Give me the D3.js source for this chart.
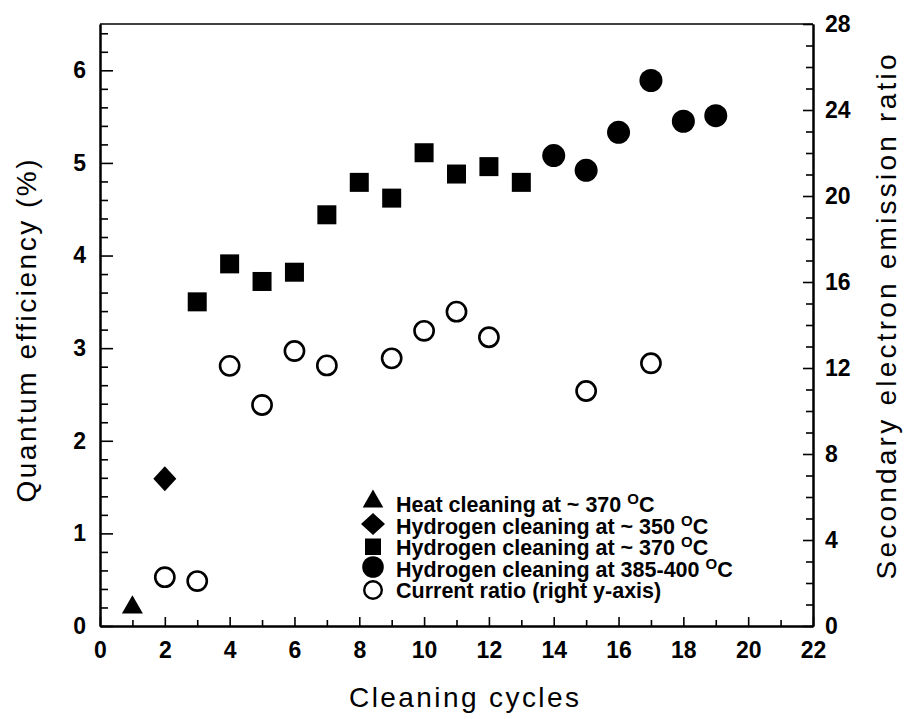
<!DOCTYPE html>
<html>
<head>
<meta charset="utf-8">
<script src="https://cdn.jsdelivr.net/npm/d3@7"></script>
<style>
  body { margin: 0; background: #fff; }
  svg { display: block; }
  text { font-family: "Liberation Sans", Arial, Helvetica, sans-serif; fill: #000; }
</style>
</head>
<body>
<svg id="chart" width="911" height="719"></svg>
<script>
// Cleaning cycles vs. quantum efficiency (left axis) and current ratio (right axis)
const heatCycles = [1];
const heatQE = [0.2];

const h350Cycles = [2];
const h350QE = [1.59];

const h370Cycles = [3, 4, 5, 6, 7, 8, 9, 10, 11, 12, 13];
const h370QE = [3.50, 3.91, 3.72, 3.82, 4.44, 4.79, 4.62, 5.11, 4.88, 4.96, 4.79];

const h385Cycles = [14, 15, 16, 17, 18, 19];
const h385QE = [5.08, 4.92, 5.33, 5.89, 5.45, 5.51];

const ratioCycles = [2, 3, 4, 5, 6, 7, 9, 10, 11, 12, 15, 17];
const ratioValues = [2.27, 2.09, 12.1, 10.28, 12.79, 12.12, 12.45, 13.73, 14.62, 13.43, 10.93, 12.22];

const xMajorTicks = [0, 2, 4, 6, 8, 10, 12, 14, 16, 18, 20, 22];
const xMinorTicks = [1, 3, 5, 7, 9, 11, 13, 15, 17, 19, 21];
const yLeftMajorTicks = [0, 1, 2, 3, 4, 5, 6];
const yLeftMinorTicks = [0.2, 0.4, 0.6, 0.8, 1.2, 1.4, 1.6, 1.8, 2.2, 2.4, 2.6, 2.8,
  3.2, 3.4, 3.6, 3.8, 4.2, 4.4, 4.6, 4.8, 5.2, 5.4, 5.6, 5.8, 6.2, 6.4];
const yRightMajorTicks = [0, 4, 8, 12, 16, 20, 24, 28];
const yRightMinorTicks = [1, 2, 3, 5, 6, 7, 9, 10, 11, 13, 14, 15, 17, 18, 19, 21, 22, 23, 25, 26, 27];

const legendLabels = [
  ["Heat cleaning at ~ 370 ", "C"],
  ["Hydrogen cleaning at ~ 350 ", "C"],
  ["Hydrogen cleaning at ~ 370 ", "C"],
  ["Hydrogen cleaning at 385-400 ", "C"],
  ["Current ratio (right y-axis)", null]
];

const svg = d3.select("#chart");
const plotLeft = 100, plotRight = 813, plotTop = 24, plotBottom = 626;

const x = d3.scaleLinear().domain([0, 22]).range([plotLeft, plotRight]);
const yL = d3.scaleLinear().domain([0, 6.5]).range([plotBottom, plotTop]);
const yR = d3.scaleLinear().domain([0, 28]).range([plotBottom, plotTop]);

// marker shapes
function triPath(s) { // s: half width
  const h = s * 1.75;
  return `M0,${-h * 2 / 3}L${s},${h / 3}L${-s},${h / 3}Z`;
}
function diamondPath(w, h) {
  return `M0,${-h}L${w},0L0,${h}L${-w},0Z`;
}

// axes
function styleAxis(g, size) {
  g.selectAll(".domain").attr("stroke", "#000").attr("stroke-width", 2);
  g.selectAll(".tick line").attr("stroke", "#000").attr("stroke-width", 1.6);
  g.selectAll(".tick text")
    .style("font-family", '"Liberation Sans", Arial, sans-serif')
    .style("font-weight", "bold")
    .style("font-size", size + "px")
    .attr("fill", "#000");
}

// bottom
svg.append("g").attr("transform", `translate(0,${plotBottom})`)
  .call(d3.axisBottom(x).tickValues(xMinorTicks).tickSizeInner(-6).tickSizeOuter(0).tickFormat(""))
  .call(g => styleAxis(g, 23));
svg.append("g").attr("transform", `translate(0,${plotBottom})`)
  .call(d3.axisBottom(x).tickValues(xMajorTicks).tickSizeInner(-9).tickSizeOuter(0).tickPadding(16).tickFormat(d3.format("d")))
  .call(g => styleAxis(g, 23));

// left
svg.append("g").attr("transform", `translate(${plotLeft},0)`)
  .call(d3.axisLeft(yL).tickValues(yLeftMinorTicks).tickSizeInner(-8).tickSizeOuter(0).tickFormat(""))
  .call(g => styleAxis(g, 23));
svg.append("g").attr("transform", `translate(${plotLeft},0)`)
  .call(d3.axisLeft(yL).tickValues(yLeftMajorTicks).tickSizeInner(-13).tickSizeOuter(0).tickPadding(14).tickFormat(d3.format("d")))
  .call(g => styleAxis(g, 23));

// right
svg.append("g").attr("transform", `translate(${plotRight},0)`)
  .call(d3.axisRight(yR).tickValues(yRightMinorTicks).tickSizeInner(-7).tickSizeOuter(0).tickFormat(""))
  .call(g => styleAxis(g, 23));
svg.append("g").attr("transform", `translate(${plotRight},0)`)
  .call(d3.axisRight(yR).tickValues(yRightMajorTicks).tickSizeInner(-10).tickSizeOuter(0).tickPadding(12).tickFormat(d3.format("d")))
  .call(g => styleAxis(g, 23));

// top frame line
svg.append("line")
  .attr("x1", x(0)).attr("x2", x(22)).attr("y1", yL(6.5)).attr("y2", yL(6.5))
  .attr("stroke", "#000").attr("stroke-width", 1.6);

// axis titles
svg.append("text")
  .attr("x", 464).attr("y", 707)
  .attr("text-anchor", "middle")
  .attr("textLength", 230).attr("lengthAdjust", "spacing")
  .style("font-size", "28px")
  .text("Cleaning cycles");

svg.append("text")
  .attr("transform", "translate(36,331) rotate(-90)")
  .attr("text-anchor", "middle")
  .attr("textLength", 343).attr("lengthAdjust", "spacing")
  .style("font-size", "28px")
  .text("Quantum efficiency (%)");

svg.append("text")
  .attr("transform", "translate(896,317) rotate(-90)")
  .attr("text-anchor", "middle")
  .attr("textLength", 525).attr("lengthAdjust", "spacing")
  .style("font-size", "28px")
  .text("Secondary electron emission ratio");

// data marks
const pts = (cs, vs) => cs.map((c, i) => ({ c, v: vs[i] }));

svg.append("g").selectAll("circle")
  .data(pts(ratioCycles, ratioValues)).join("circle")
  .attr("cx", d => x(d.c)).attr("cy", d => yR(d.v)).attr("r", 9.6)
  .attr("fill", "#fff").attr("stroke", "#000").attr("stroke-width", 2.6);

svg.append("g").selectAll("path")
  .data(pts(heatCycles, heatQE)).join("path")
  .attr("transform", d => `translate(${x(d.c)},${yL(d.v)})`)
  .attr("d", triPath(10.5)).attr("fill", "#000");

svg.append("g").selectAll("path")
  .data(pts(h350Cycles, h350QE)).join("path")
  .attr("transform", d => `translate(${x(d.c)},${yL(d.v)})`)
  .attr("d", diamondPath(11.5, 12.5)).attr("fill", "#000");

svg.append("g").selectAll("rect")
  .data(pts(h370Cycles, h370QE)).join("rect")
  .attr("x", d => x(d.c) - 9.5).attr("y", d => yL(d.v) - 9.5)
  .attr("width", 19).attr("height", 19).attr("fill", "#000");

svg.append("g").selectAll("circle")
  .data(pts(h385Cycles, h385QE)).join("circle")
  .attr("cx", d => x(d.c)).attr("cy", d => yL(d.v)).attr("r", 11.5)
  .attr("fill", "#000");

// legend
const lg = svg.append("g");
const lgX = 373, textX = 396, base0 = 512, step = 21.5;
legendLabels.forEach((lab, i) => {
  const by = base0 + i * step;
  const cy = by - 9.5;
  if (i === 0) lg.append("path").attr("transform", `translate(${lgX},${cy - 1})`).attr("d", triPath(10.3)).attr("fill", "#000");
  if (i === 1) lg.append("path").attr("transform", `translate(${lgX},${cy})`).attr("d", diamondPath(12, 11)).attr("fill", "#000");
  if (i === 2) lg.append("rect").attr("x", lgX - 8).attr("y", cy - 7).attr("width", 16).attr("height", 16.5).attr("fill", "#000");
  if (i === 3) lg.append("circle").attr("cx", lgX).attr("cy", cy).attr("r", 10.8).attr("fill", "#000");
  if (i === 4) lg.append("circle").attr("cx", lgX).attr("cy", cy + 1.5).attr("r", 8.8).attr("fill", "#fff").attr("stroke", "#000").attr("stroke-width", 2.4);

  const t = lg.append("text").attr("x", textX).attr("y", by)
    .style("font-size", "21.5px").style("font-weight", "bold");
  t.append("tspan").text(lab[0]);
  if (lab[1]) {
    t.append("tspan").attr("dy", -8).style("font-size", "15px").text("O");
    t.append("tspan").attr("dy", 8).text(lab[1]);
  }
});
</script>
</body>
</html>
